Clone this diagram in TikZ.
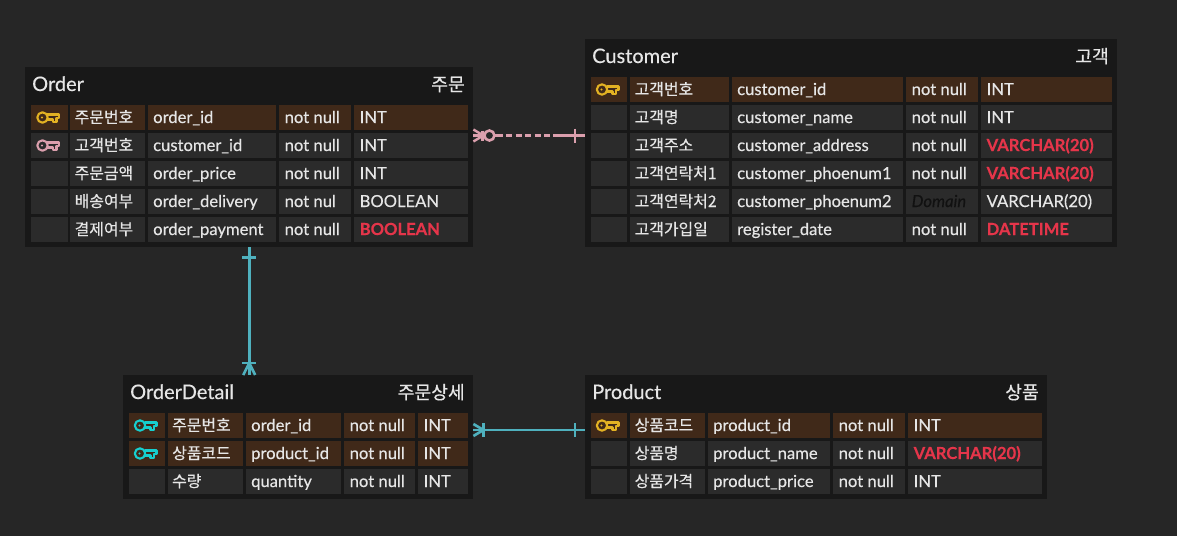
\documentclass[tikz,border=0pt]{standalone}
\usepackage{fontspec}
\setmainfont[RawFeature={embolden=0.35},BoldFont={Lato Bold},ItalicFont={Lato Italic}]{Lato}
\newfontfamily\krfont[RawFeature={embolden=0.35}]{Noto Sans CJK KR}
\usetikzlibrary{calc}
\definecolor{bgc}{HTML}{262626}
\definecolor{tablec}{HTML}{181818}
\definecolor{cellc}{HTML}{2B2B2B}
\definecolor{pkc}{HTML}{402919}
\definecolor{txtc}{HTML}{E6E6E6}
\definecolor{redc}{HTML}{E5354A}
\definecolor{goldc}{HTML}{E3B223}
\definecolor{pinkc}{HTML}{DB9FAD}
\definecolor{cyanc}{HTML}{16CFCF}
\definecolor{tealc}{HTML}{4FB1BE}
\definecolor{domc}{HTML}{111111}
\newcommand{\fs}{\fontsize{16.6}{18}\selectfont}
\newcommand{\kfs}{\krfont\fontsize{15.9}{18}\selectfont}
\tikzset{
  x=1pt,y=-1pt,
  tablebox/.style={fill=tablec,draw=none,inner sep=0,anchor=north west},
  cellbox/.style={draw=none,inner sep=0,anchor=north west,minimum height=25pt},
  txt/.style={text=txtc,inner sep=0,anchor=base west,font=\fs},
  kr/.style={text=txtc,inner sep=0,anchor=base west,font=\kfs},
  redt/.style={text=redc,inner sep=0,anchor=base west,font=\fs\bfseries},
  dom/.style={text=domc,inner sep=0,anchor=base west,font=\fs\itshape},
  ttl/.style={text=txtc,inner sep=0,anchor=base west,font=\fontsize{20}{22}\selectfont},
  ttlk/.style={text=txtc,inner sep=0,anchor=base east,font=\krfont\fontsize{18.2}{20}\selectfont},
  keyline/.style={line width=2.1pt,draw=#1,fill=none,line join=round},
  relteal/.style={draw=tealc,line width=2.6pt},
  relpink/.style={draw=pinkc,line width=2.4pt},
}
\newcommand{\ertable}[7]{%
  \node[tablebox,minimum width=#4pt,minimum height=#5pt] (#1) at (#2,#3) {};
  \node[ttl] (#1t) at (#2+7,#3+24) {#6};
  \node[ttlk] (#1k) at (#2+#4-8,#3+24) {#7};
}
\newcommand{\erkey}[3]{%
  \draw[keyline=#3] (#1-6.5,#2) circle[radius=5.2];
  \fill[#3] (#1-7,#2) circle[radius=1.2];
  \draw[keyline=#3] (#1-2,#2-3) -- (#1+10,#2-3) -- (#1+10,#2+0.5) -- (#1+7.5,#2+0.5) -- (#1+7.5,#2+4.4) -- (#1+4,#2+4.4) -- (#1+4,#2+2) -- (#1-2,#2+2);
}
\newcommand{\ercell}[5]{%
  \node[cellbox,fill=#5] at (#2,#4) [minimum width=#3pt-#2pt] (#1) {};
}
\newcommand{\setcols}[5]{\def\ca{#1}\def\cb{#2}\def\cc{#3}\def\cd{#4}\def\ce{#5}}
\newcommand{\setcolsb}[5]{\def\cf{#1}\def\cg{#2}\def\ch{#3}\def\cj{#4}\def\cl{#5}}
\newcommand{\errow}[9]{%
  \ercell{#1i}{\ca}{\cb}{#2}{#3}
  \ercell{#1k}{\cc}{\cd}{#2}{#3}
  \ercell{#1n}{\ce}{\cf}{#2}{#3}
  \ercell{#1u}{\cg}{\ch}{#2}{#3}
  \ercell{#1y}{\cj}{\cl}{#2}{#3}
  \node[kr] (#1kt) at (\cc+4.5,#2+18) {#4};
  \node[txt] (#1nt) at (\ce+5,#2+18) {#5};
  \node[#6] (#1ut) at (\cg+5.5,#2+18) {#7};
  \node[#8] (#1yt) at (\cj+5.5,#2+18) {#9};
}
\begin{document}
\begin{tikzpicture}
\useasboundingbox (0,0) rectangle (1177,536);
\fill[bgc] (0,0) rectangle (1177,536);

% ---------- Order
\ertable{order}{25}{67}{448}{180}{Order}{주문}
\setcols{31}{67.5}{70}{145}{148}\setcolsb{276}{279}{351}{354}{467.5}
\errow{oa}{105}{pkc}{주문번호}{order\_id}{txt}{not null}{txt}{INT}
\errow{ob}{133}{cellc}{고객번호}{customer\_id}{txt}{not null}{txt}{INT}
\errow{oc}{161}{cellc}{주문금액}{order\_price}{txt}{not null}{txt}{INT}
\errow{od}{189}{cellc}{배송여부}{order\_delivery}{txt}{not nul}{txt}{BOOLEAN}
\errow{oe}{217}{cellc}{결제여부}{order\_payment}{txt}{not null}{redt}{BOOLEAN}
\erkey{49}{117.5}{goldc}
\erkey{49}{145.5}{pinkc}

% ---------- Customer
\ertable{customer}{585}{39}{532}{208}{Customer}{고객}
\setcols{590.5}{627}{630}{729}{732}\setcolsb{903}{906}{978}{981}{1111.5}
\errow{ca}{77}{pkc}{고객번호}{customer\_id}{txt}{not null}{txt}{INT}
\errow{cb}{105}{cellc}{고객명}{customer\_name}{txt}{not null}{txt}{INT}
\errow{cc}{133}{cellc}{고객주소}{customer\_address}{txt}{not null}{redt}{VARCHAR(20)}
\errow{cd}{161}{cellc}{고객연락처1}{customer\_phoenum1}{txt}{not null}{redt}{VARCHAR(20)}
\errow{ce}{189}{cellc}{고객연락처2}{customer\_phoenum2}{dom}{Domain}{txt}{VARCHAR(20)}
\errow{cf}{217}{cellc}{고객가입일}{register\_date}{txt}{not null}{redt}{DATETIME}
\erkey{608.5}{89.5}{goldc}

% ---------- OrderDetail
\ertable{detail}{123}{375}{350}{124}{OrderDetail}{주문상세}
\setcols{128.5}{165}{167.5}{243}{246}\setcolsb{340.5}{344}{415}{418}{467.5}
\errow{da}{413}{pkc}{주문번호}{order\_id}{txt}{not null}{txt}{INT}
\errow{db}{441}{pkc}{상품코드}{product\_id}{txt}{not null}{txt}{INT}
\errow{dc}{469}{cellc}{수량}{quantity}{txt}{not null}{txt}{INT}
\erkey{146.5}{425.5}{cyanc}
\erkey{146.5}{453.5}{cyanc}

% ---------- Product
\ertable{product}{585}{375}{462}{124}{Product}{상품}
\setcols{590.5}{627}{630}{705}{708}\setcolsb{830}{833}{905}{908}{1041.5}
\errow{pa}{413}{pkc}{상품코드}{product\_id}{txt}{not null}{txt}{INT}
\errow{pb}{441}{cellc}{상품명}{product\_name}{txt}{not null}{redt}{VARCHAR(20)}
\errow{pc}{469}{cellc}{상품가격}{product\_price}{txt}{not null}{txt}{INT}
\erkey{608.5}{425.5}{goldc}

% ---------- Relationships
\coordinate (ocA) at ($(order.north east)+(0,68.5)$);
\coordinate (ocB) at ($(customer.north west)+(0,96.5)$);
\draw[relpink,line width=2.2pt,dash pattern=on 6pt off 3.4pt] ($(ocA)+(33,0)$) -- ($(ocB)+(-28,0)$);
\draw[relpink] (ocA) -- ($(ocA)+(10,0)$);
\draw[relpink] ($(ocA)+(0,-6)$) -- ($(ocA)+(10,0)$) -- ($(ocA)+(0,6)$);
\draw[relpink] ($(ocA)+(9,-5)$) -- ($(ocA)+(9,5)$);
\draw[relpink] ($(ocA)+(22,0)$) -- ($(ocA)+(30,0)$);
\draw[relpink,line width=2.6pt] ($(ocA)+(16,0)$) circle[radius=5];
\draw[relpink] ($(ocB)+(-29,0)$) -- (ocB);
\draw[relpink] ($(ocB)+(-10,-7)$) -- ($(ocB)+(-10,7)$);

\coordinate (odA) at (order.south);
\coordinate (odB) at (order.south |- detail.north);
\draw[relteal] (odA) -- (odB);
\draw[relteal] ($(odA)+(-7,10)$) -- ($(odA)+(7,10)$);
\draw[relteal] ($(odB)+(-7,-12)$) -- ($(odB)+(7,-12)$);
\draw[relteal] ($(odB)+(-6,0)$) -- ($(odB)+(0,-12)$) -- ($(odB)+(6,0)$);

\coordinate (dpA) at ($(detail.north east)+(0,55)$);
\coordinate (dpB) at ($(product.north west)+(0,55)$);
\draw[relteal] (dpA) -- (dpB);
\draw[relteal] ($(dpA)+(10,-7)$) -- ($(dpA)+(10,7)$);
\draw[relteal] ($(dpA)+(0,-6)$) -- ($(dpA)+(10,0)$) -- ($(dpA)+(0,6)$);
\draw[relteal] ($(dpB)+(-10,-7)$) -- ($(dpB)+(-10,7)$);
\end{tikzpicture}
\end{document}
